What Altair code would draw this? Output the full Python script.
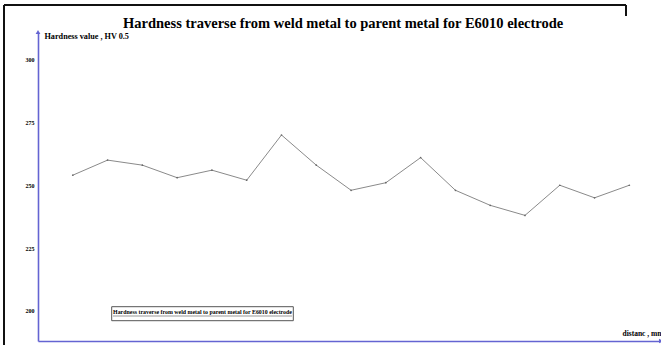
import altair as alt
import pandas as pd

# Hardness readings (HV 0.5) along the traverse, one reading per station
station = list(range(1, 18))
hardness = [254, 260, 258, 253, 256, 252, 270, 258, 248, 251, 261, 248, 242, 238, 250, 245, 250]
series_name = "Hardness traverse from weld metal to parent metal for E6010 electrode"
y_ticks = [200, 225, 250, 275, 300]

x_domain = [0, 17.91]
y_domain = [188, 311]

AXIS_BLUE = "#6464d2"
SERIF = "Liberation Serif"

df = pd.DataFrame({"distance": station, "hardness": hardness, "series": series_name})

x_scale = alt.Scale(domain=x_domain, nice=False, zero=False)
y_scale = alt.Scale(domain=y_domain, nice=False, zero=False)

line = alt.Chart(df).mark_line(color="#8a8a8a", strokeWidth=1).encode(
    x=alt.X(
        "distance:Q",
        scale=x_scale,
        axis=alt.Axis(
            title="distanc , mm",
            labels=False,
            ticks=False,
            grid=False,
            domainColor=AXIS_BLUE,
            domainWidth=1.6,
            titleFont=SERIF,
            titleFontSize=7.5,
            titleFontWeight="bold",
            titleColor="#000",
            titleAngle=0,
            titleAlign="left",
            titleBaseline="middle",
            titleX=584,
            titleY=-8,
        ),
    ),
    y=alt.Y(
        "hardness:Q",
        scale=y_scale,
        axis=alt.Axis(
            title="Hardness value , HV 0.5",
            values=y_ticks,
            ticks=False,
            grid=False,
            domainColor=AXIS_BLUE,
            domainWidth=1.6,
            labelFont=SERIF,
            labelFontSize=6,
            labelFontWeight="bold",
            labelColor="#000",
            labelPadding=4,
            titleFont=SERIF,
            titleFontSize=8.2,
            titleFontWeight="bold",
            titleColor="#000",
            titleAngle=0,
            titleAlign="left",
            titleBaseline="middle",
            titleX=6,
            titleY=4,
        ),
    ),
)

vertices = alt.Chart(df).mark_point(filled=True, size=3, color="#555", opacity=0.8).encode(
    x=alt.X("distance:Q", scale=x_scale),
    y=alt.Y("hardness:Q", scale=y_scale),
)

# arrow heads at the ends of both axes
ends = pd.DataFrame({"x": [x_domain[0], x_domain[1]], "y": [y_domain[1], y_domain[0]],
                     "shape": ["triangle-up", "triangle-right"]})
arrows = alt.Chart(ends).mark_point(filled=True, size=22, color=AXIS_BLUE, opacity=1).encode(
    x=alt.X("x:Q", scale=x_scale),
    y=alt.Y("y:Q", scale=y_scale),
    shape=alt.Shape("shape:N", scale=None),
)

one = df.head(1)

# chart heading
heading = alt.Chart(one).mark_text(
    font=SERIF, fontSize=14.5, fontWeight="bold", color="#000", align="left", baseline="alphabetic"
).encode(x=alt.value(85), y=alt.value(-4), text="series:N")

# legend box with the series name and its line sample
legend_box = alt.Chart(one).mark_rect(fill="white", stroke="#555", strokeWidth=1).encode(
    x=alt.value(73.7), x2=alt.value(255.3), y=alt.value(274.7), y2=alt.value(288.7)
)
legend_text = alt.Chart(one).mark_text(
    font=SERIF, fontSize=5.9, fontWeight="bold", color="#000", baseline="middle", align="center"
).encode(x=alt.value(164.5), y=alt.value(280.2), text="series:N")
legend_line = alt.Chart(one).mark_rule(color="#999", strokeWidth=1).encode(
    x=alt.value(75), x2=alt.value(254), y=alt.value(284)
)

# outer frame lines
frame_left = alt.Chart(one).mark_rule(color="#111", strokeWidth=2).encode(
    x=alt.value(-34), y=alt.value(-27), y2=alt.value(313)
)
frame_top = alt.Chart(one).mark_rule(color="#111", strokeWidth=2).encode(
    x=alt.value(-34), x2=alt.value(588), y=alt.value(-27)
)
frame_right = alt.Chart(one).mark_rule(color="#111", strokeWidth=2).encode(
    x=alt.value(588), y=alt.value(-27), y2=alt.value(-16)
)

chart = alt.layer(
    frame_left, frame_top, frame_right, heading, line, vertices, arrows,
    legend_box, legend_line, legend_text
).properties(
    width=623,
    height=309,
    background="white",
    autosize=alt.AutoSizeParams(type="none"),
    padding={"left": 38, "top": 32, "right": 0, "bottom": 4},
).configure_view(stroke=None)

chart.save("out.html", embed_options={"renderer": "svg", "actions": False})
